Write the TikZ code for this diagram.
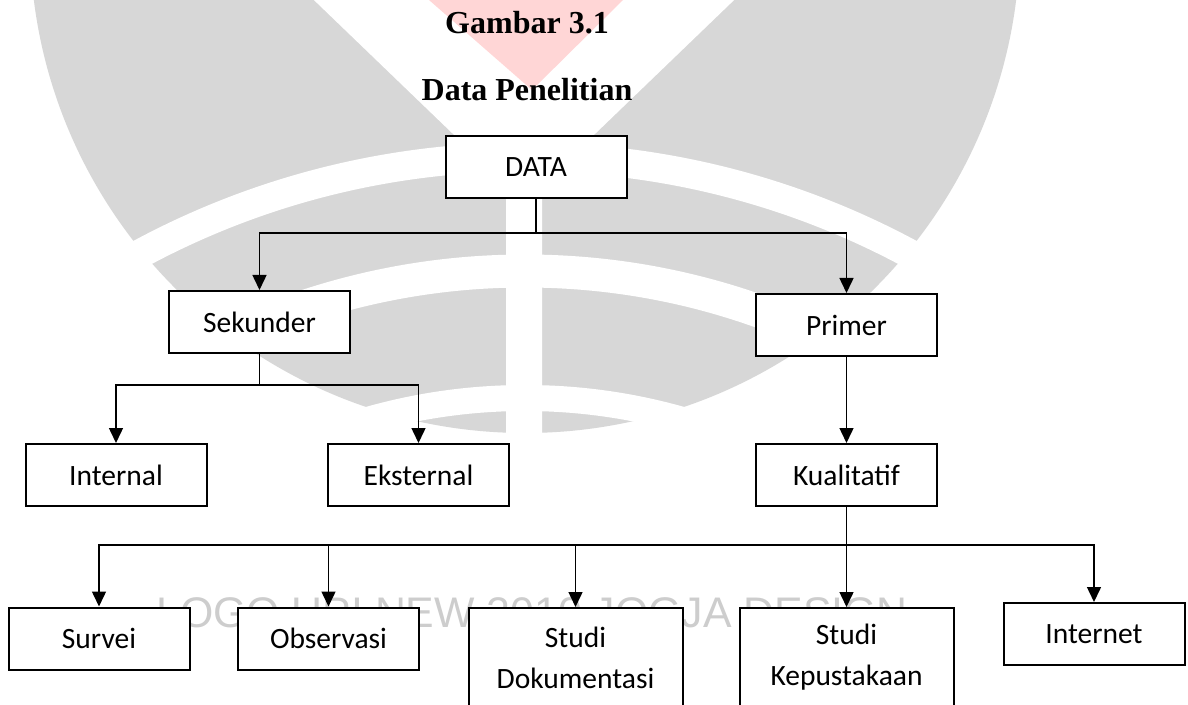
\documentclass[tikz,border=0pt]{standalone}
\usepackage{fontspec}
\setmainfont{Carlito}
\newfontfamily\headfont{Liberation Serif}
\newfontfamily\markfont{Liberation Sans}
\usetikzlibrary{arrows.meta}
\definecolor{logogrey}{RGB}{215,215,215}
\definecolor{logopink}{RGB}{255,214,214}
\definecolor{marktext}{RGB}{205,205,205}

\begin{document}
\begin{tikzpicture}[x=0.5pt,y=0.5pt]
            \tikzstyle{every node}+=[inner sep=0pt]
            \tikzstyle{box}=[draw=black, line width=1pt, fill=white, minimum width=90.5pt, minimum height=31pt, align=center, font=\fontsize{14.75}{20.5}\selectfont]
            \tikzstyle{tallbox}=[box, minimum width=107pt, minimum height=49.5pt]
            \tikzstyle{arr}=[black, line width=0.75pt, -{Triangle[width=7pt,length=7.5pt]}]
            \useasboundingbox (0,0) rectangle (1188,-705);
            \begin{scope}
            \clip (0,0) rectangle (1188,-705);
            \fill [white] (0,0) rectangle (1188,-705);
            \fill [logogrey] (525,62) circle (495);
            \fill [white] (210,100) -- (506,-185) -- (506,-800) -- (542,-800) -- (542,-185) -- (838,100) -- cycle;
            \fill [logopink] (429,0) -- (532,-90) -- (623,0) -- cycle;
            \draw [white, line width=14.5pt] (525,-969.5) circle (812.5);
            \draw [white, line width=16.5pt] (525,-969.5) circle (698.5);
            \draw [white, line width=13pt] (525,-969.5) circle (571.5);
            \draw (532,-612.5) node [text=marktext, font=\markfont\fontsize{21.4}{24}\selectfont] (mark) {LOGO UPI NEW 2010 JOGJA DESIGN};
            \end{scope}
            \draw (527,-34) node [anchor=base, font=\headfont\bfseries\fontsize{16}{19}\selectfont] (title) {Gambar 3.1};
            \draw (527,-101) node [anchor=base, font=\headfont\bfseries\fontsize{16}{19}\selectfont] (subtitle) {Data Penelitian};
            \node [box] (data) at (536,-167) {DATA};
            \node [box] (sekunder) at (259.5,-322) {Sekunder};
            \node [box] (primer) at (846.5,-325) {Primer};
            \node [box] (internal) at (116,-475) {Internal};
            \node [box] (eksternal) at (418.5,-475) {Eksternal};
            \node [box] (kualitatif) at (846.5,-475) {Kualitatif};
            \node [box] (survei) at (99,-638.5) {Survei};
            \node [box] (observasi) at (328.5,-638.5) {Observasi};
            \node [tallbox] (dokumentasi) at (575.5,-657.5) {Studi\\Dokumentasi};
            \node [tallbox] (kepustakaan) at (846.5,-657.5) {Studi\\Kepustakaan};
            \node [box] (internet) at (1094,-634) {Internet};
            \draw [arr] (data.south) -- ++(0,-34) -| (sekunder.north);
            \draw [arr] (data.south) -- ++(0,-34) -| (primer.north);
            \draw [arr] (sekunder.south) -- ++(0,-31) -| (internal.north);
            \draw [arr] (sekunder.south) -- ++(0,-31) -| (eksternal.north);
            \draw [arr] (primer) -- (kualitatif);
            \draw [arr] (kualitatif.south) -- ++(0,-38) -| (survei.north);
            \draw [arr] (kualitatif.south) -- ++(0,-38) -| (observasi.north);
            \draw [arr] (kualitatif.south) -- ++(0,-38) -| (dokumentasi.north);
            \draw [arr] (kualitatif.south) -- ++(0,-38) -| (kepustakaan.north);
            \draw [arr] (kualitatif.south) -- ++(0,-38) -| (internet.north);
\end{tikzpicture}
\end{document}
